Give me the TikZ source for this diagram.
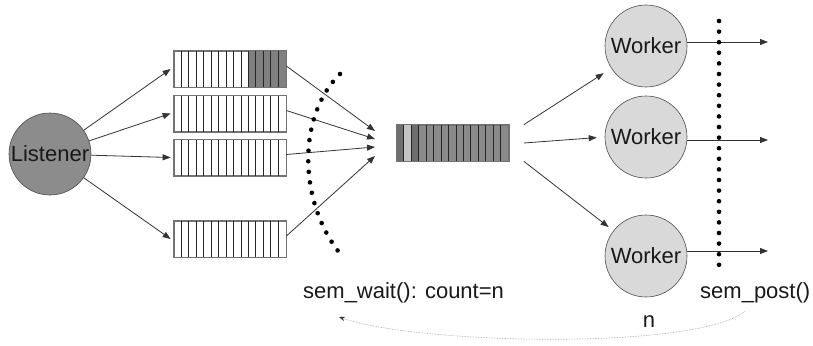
\documentclass[tikz,border=0pt]{standalone}
\usepackage{fontspec}
\setmainfont{Liberation Sans}
\usetikzlibrary{arrows.meta}
\definecolor{listenerfill}{HTML}{8C8C8C}
\definecolor{workerfill}{HTML}{D9D9D9}
\definecolor{celldark}{HTML}{808080}
\definecolor{cqdark}{HTML}{6E6E6E}
\definecolor{cqlight}{HTML}{C4C4C4}
\definecolor{cqmid}{HTML}{8A8A8A}
\begin{document}
\begin{tikzpicture}[x=1pt,y=-1pt,
  lbl/.style={font=\fontsize{22}{26}\selectfont, text=black!90},
  conn/.style={draw=black!80, line width=0.8pt, -{Triangle[length=8pt,width=6pt]}},
  qbox/.style={rectangle, minimum width=112pt, minimum height=36pt, inner sep=0pt, draw=black!55, line width=0.7pt},
  proc/.style={circle, minimum size=82pt, inner sep=0pt, draw=black!70, line width=0.6pt},
  dotline/.style={line width=4.6pt, line cap=round, dash pattern=on 0pt off 10.6pt},
]
\useasboundingbox (0,0) rectangle (813,345);

% Listener
\node[proc, fill=listenerfill, lbl] (L) at (50,154) {Listener};

% four input queues
\node[qbox] (q1) at (230,69) {};
\node[qbox] (q2) at (230,113.5) {};
\node[qbox] (q3) at (230,157.5) {};
\node[qbox] (q4) at (230,239) {};
\fill[celldark] ([xshift=74.667pt]q1.north west) rectangle (q1.south east);
\foreach \q in {q1,q2,q3,q4}{
  \foreach \i in {1,...,14}{
    \draw[black!85, line width=0.7pt] ([xshift=\i*7.4667pt]\q.north west) -- ([xshift=\i*7.4667pt]\q.south west);
  }
  \draw[black!55, line width=0.7pt] (\q.north west) rectangle (\q.south east);
}

% central queue
\node[qbox, fill=cqmid] (cq) at (452.5,143) {};
\fill[cqdark] (cq.north west) rectangle ([xshift=7.4667pt]cq.south west);
\fill[cqlight] ([xshift=7.4667pt]cq.north west) rectangle ([xshift=14.933pt]cq.south west);
\fill[cqdark] ([xshift=14.933pt]cq.north west) rectangle ([xshift=22.4pt]cq.south west);
\foreach \i in {1,...,14}{
  \draw[black!85, line width=0.7pt] ([xshift=\i*7.4667pt]cq.north west) -- ([xshift=\i*7.4667pt]cq.south west);
}
\draw[black!55, line width=0.7pt] (cq.north west) rectangle (cq.south east);

% workers
\node[proc, fill=workerfill, lbl] (w1) at (646,46) {Worker};
\node[proc, fill=workerfill, lbl] (w2) at (646,137) {Worker};
\node[proc, fill=workerfill, lbl] (w3) at (646,256) {Worker};

% Listener -> queues
\foreach \q in {q1,q2,q3,q4}{
  \draw[conn] (L) -- ([xshift=-3pt]\q.west);
}

% queues -> central queue (converging tips)
\coordinate (t1) at (375,131);
\coordinate (t2) at (375,139);
\coordinate (t3) at (375,147);
\coordinate (t4) at (375,156);
\draw[conn] ([yshift=3pt]q1.east) -- (t1);
\draw[conn] ([yshift=3pt]q2.east) -- (t2);
\draw[conn] ([yshift=3pt]q3.east) -- (t3);
\draw[conn] ([yshift=3pt]q4.east) -- (t4);

% central queue -> workers
\draw[conn, shorten >=9pt] ([xshift=15pt]cq.north east) -- (w1);
\draw[conn, shorten >=8pt] ([xshift=15pt]cq.east) -- (w2.west);
\draw[conn, shorten >=6pt] ([xshift=15pt]cq.south east) -- (w3);

% worker outputs
\coordinate (o1) at (768,42);
\coordinate (o2) at (768,140);
\coordinate (o3) at (768,251);
\draw[conn] (w1.east |- o1) -- (o1);
\draw[conn] (w2.east |- o2) -- (o2);
\draw[conn] (w3.east |- o3) -- (o3);

% dotted barriers
\draw[dotline] (340,74) .. controls (298,115) and (298,198) .. (338,251);
\draw[dotline] (719,21) -- (719,265);

% labels
\node[lbl, anchor=base west, inner sep=0pt] (wait) at (303,298) {sem\_wait(): count=n};
\node[lbl, anchor=base west, inner sep=0pt] (post) at (700,298) {sem\_post()};
\node[lbl, anchor=base, inner sep=0pt] (n) at (649,327) {n};

% return arrow
\coordinate (rs) at (745,311);
\coordinate (re) at (339,317);
\draw[draw=black!40, line width=0.6pt, densely dotted, -{Stealth[length=6pt,width=4.5pt,black!80]}]
  (rs) .. controls (700,350) and (420,345) .. (re);
\end{tikzpicture}
\end{document}
